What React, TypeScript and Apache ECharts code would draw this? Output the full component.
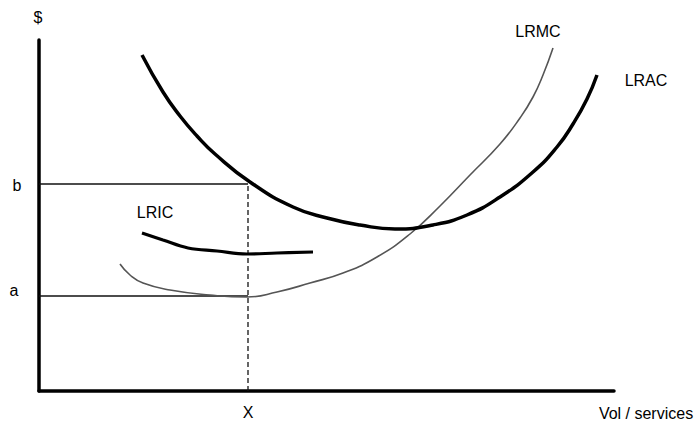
import React, { useEffect, useRef } from "react";
import * as echarts from "echarts";

// Data units: x = volume (0..575), y = cost $ (0..351)
const lracPoints: [number, number][] = [
  [103, 336], [124, 299], [141, 275], [158, 255], [176, 237], [211, 209], [254, 184],
  [288, 173], [321, 166], [356, 162], [394, 166], [428, 176], [461, 194], [494, 219],
  [518, 244], [534, 267], [548, 292], [558, 316],
];
const lrmcPoints: [number, number][] = [
  [81, 127], [91, 116], [104, 108], [131, 101], [171, 96], [208, 94], [238, 99],
  [271, 108], [304, 118], [338, 134], [371, 157], [401, 185], [431, 216], [461, 247],
  [481, 273], [494, 294], [504, 316], [514, 343],
];
const lricPoints: [number, number][] = [
  [103, 158], [124, 151], [149, 143], [178, 140], [208, 137], [238, 138], [274, 139],
];
const bLevel = 207;
const aLevel = 95;
const xLevel = 209;
const xMax = 575;
const yMax = 351;

export default function App() {
  const ref = useRef<HTMLDivElement>(null);
  useEffect(() => {
    if (!ref.current) return;
    const chart = echarts.init(ref.current, null, { renderer: "svg" });
    const font = "Liberation Sans, Arial, sans-serif";
    const txt = (text: string, x: number, y: number) => ({
      type: "text",
      x,
      y,
      style: { text, font: `16px ${font}`, fill: "#000", textAlign: "center", textVerticalAlign: "middle" },
    });
    chart.setOption({
      animation: false,
      backgroundColor: "#fff",
      grid: { left: 39, right: 82, top: 40, bottom: 32 },
      xAxis: {
        type: "value", min: 0, max: xMax,
        axisLine: { show: true, onZero: false, lineStyle: { color: "#000", width: 3.5 } },
        axisTick: { show: false }, axisLabel: { show: false }, splitLine: { show: false },
      },
      yAxis: {
        type: "value", min: 0, max: yMax,
        axisLine: { show: true, onZero: false, lineStyle: { color: "#000", width: 3.5 } },
        axisTick: { show: false }, axisLabel: { show: false }, splitLine: { show: false },
      },
      series: [
        {
          type: "line", data: [[0, bLevel], [xLevel, bLevel]], symbol: "none",
          lineStyle: { color: "#111", width: 1.5 }, z: 1,
        },
        {
          type: "line", data: [[0, aLevel], [xLevel, aLevel]], symbol: "none",
          lineStyle: { color: "#111", width: 1.5 }, z: 1,
        },
        {
          type: "line", data: [[xLevel, 0], [xLevel, bLevel]], symbol: "none",
          lineStyle: { color: "#111", width: 1.3, type: [5, 3] }, z: 1,
        },
        {
          name: "LRAC", type: "line", data: lracPoints, smooth: 0.5, symbol: "none",
          lineStyle: { color: "#000", width: 3.5 }, z: 3,
        },
        {
          name: "LRMC", type: "line", data: lrmcPoints, smooth: 0.5, symbol: "none",
          lineStyle: { color: "#555", width: 1.6 }, z: 2,
        },
        {
          name: "LRIC", type: "line", data: lricPoints, smooth: 0.4, symbol: "none",
          lineStyle: { color: "#000", width: 3.2 }, z: 3,
        },
      ],
      graphic: [
        txt("$", 38, 17),
        txt("b", 17, 185),
        txt("a", 14, 290),
        txt("X", 248, 412),
        txt("Vol / services", 646, 413),
        txt("LRMC", 538, 31),
        txt("LRAC", 646, 80),
        txt("LRIC", 155, 212),
      ],
    });
    return () => chart.dispose();
  }, []);
  return (
    <div
      ref={ref}
      style={{ position: "absolute", left: 0, top: 0, width: 696, height: 423 }}
    />
  );
}
